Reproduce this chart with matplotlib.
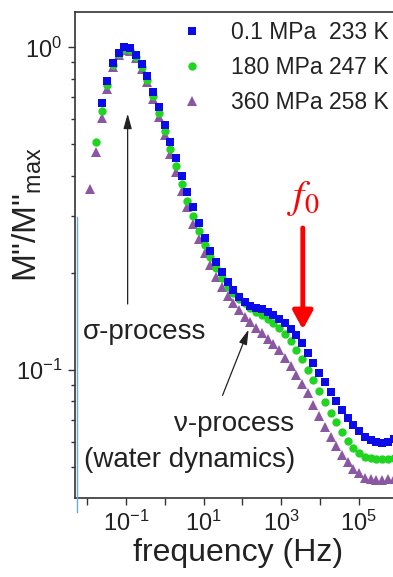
import numpy as np
import matplotlib
matplotlib.use("Agg")
import matplotlib.pyplot as plt
from matplotlib.lines import Line2D
from matplotlib.ticker import LogLocator, NullFormatter, FixedLocator

plt.rcParams['font.family'] = ['Liberation Sans', 'DejaVu Sans']
plt.rcParams['mathtext.fontset'] = 'custom'
plt.rcParams['mathtext.rm'] = 'Liberation Sans'
plt.rcParams['mathtext.it'] = 'Liberation Sans:italic'

# log10 of frequency (Hz) of the measured points
log_freq = [-1.920, -1.773, -1.625, -1.478, -1.330, -1.183, -1.036, -0.888,
            -0.741, -0.593, -0.446, -0.299, -0.151, -0.004, 0.144, 0.291,
            0.438, 0.586, 0.733, 0.881, 1.028, 1.175, 1.323, 1.470,
            1.618, 1.765, 1.912, 2.060, 2.207, 2.355, 2.502, 2.649,
            2.797, 2.944, 3.092, 3.239, 3.386, 3.534, 3.681, 3.829,
            3.976, 4.123, 4.271, 4.418, 4.566, 4.713, 4.860, 5.008,
            5.155, 5.303, 5.450, 5.597, 5.745, 5.892]

# M''/M''max, 0.1 MPa 233 K (starts at 3rd frequency)
m_01 = [0.672, 0.788, 0.892, 0.962, 1.000, 0.993, 0.947, 0.888, 0.815, 0.729,
        0.652, 0.574, 0.510, 0.454, 0.400, 0.355, 0.319, 0.285, 0.256, 0.234,
        0.216, 0.201, 0.188, 0.177, 0.168, 0.163, 0.158, 0.156, 0.154, 0.151,
        0.148, 0.144, 0.140, 0.134, 0.128, 0.121, 0.113, 0.105, 0.0982, 0.0915,
        0.0855, 0.0801, 0.0752, 0.0710, 0.0676, 0.0647, 0.0622, 0.0607, 0.0598,
        0.0596, 0.0600, 0.0609]

# 180 MPa 247 K (starts at 2nd frequency)
m_180 = [0.509, 0.635, 0.764, 0.881, 0.953, 0.988, 0.981, 0.933, 0.869, 0.792,
         0.707, 0.626, 0.550, 0.484, 0.429, 0.377, 0.334, 0.300, 0.270, 0.244,
         0.224, 0.207, 0.193, 0.181, 0.173, 0.166, 0.161, 0.156, 0.151, 0.148,
         0.144, 0.140, 0.135, 0.129, 0.123, 0.115, 0.108, 0.100, 0.0928, 0.0861,
         0.0798, 0.0738, 0.0688, 0.0643, 0.0603, 0.0573, 0.0553, 0.0539, 0.0532,
         0.0528, 0.0528, 0.0530, 0.0534]

# 360 MPa 258 K
m_360 = [0.364, 0.474, 0.605, 0.741, 0.869, 0.947, 0.981, 0.974, 0.927, 0.857,
         0.781, 0.692, 0.608, 0.535, 0.467, 0.411, 0.359, 0.320, 0.283, 0.255,
         0.230, 0.211, 0.194, 0.181, 0.170, 0.161, 0.153, 0.146, 0.141, 0.135,
         0.130, 0.125, 0.120, 0.115, 0.109, 0.103, 0.0968, 0.0908, 0.0846, 0.0781,
         0.0720, 0.0668, 0.0622, 0.0581, 0.0547, 0.0519, 0.0495, 0.0478, 0.0464,
         0.0458, 0.0455, 0.0456, 0.0458, 0.0461]

labels = ['0.1 MPa  233 K', '180 MPa 247 K', '360 MPa 258 K']
x_tick_exp = [-2, -1, 0, 1, 2, 3, 4, 5]
x_label_exp = [-1, 1, 3, 5]

freq = 10 ** np.array(log_freq)

W, H = 393, 577
fig = plt.figure(figsize=(W / 100, H / 100), dpi=100)
ax = fig.add_axes([75 / W, 1 - 498 / H, 327 / W, (498 - 12) / H])

blue, green, purple = '#0b0bea', '#1fd51f', '#8c57a2'
ms = 6.0
h3, = ax.plot(freq, m_360, '^', color=purple, ms=ms + 0.6, mew=0, label=labels[2])
h2, = ax.plot(freq[1:], m_180, 'o', color=green, ms=ms, mew=0, label=labels[1])
h1, = ax.plot(freq[2:], m_01, 's', color=blue, ms=ms - 0.4, mew=0, label=labels[0])

ax.set_xscale('log')
ax.set_yscale('log')
ax.set_xlim(10 ** -2.31, 10 ** 6.11)
ax.set_ylim(10 ** -1.3967, 10 ** 0.1094)

ax.xaxis.set_major_locator(FixedLocator([10.0 ** e for e in x_tick_exp]))
ax.xaxis.set_minor_locator(FixedLocator([]))
ax.set_xticklabels(['$10^{%d}$' % e if e in x_label_exp else '' for e in x_tick_exp])
ax.yaxis.set_major_locator(FixedLocator([0.1, 1.0]))
ax.set_yticklabels(['$10^{-1}$', '$10^{0}$'])
ax.yaxis.set_minor_locator(LogLocator(base=10, subs=np.arange(2, 10)))
ax.yaxis.set_minor_formatter(NullFormatter())

ax.tick_params(which='major', direction='out', length=5, width=1, labelsize=17,
               colors='#333333', labelcolor='#222222', pad=4)
ax.tick_params(which='minor', direction='out', length=3, width=1, colors='#333333')
for s in ['left', 'bottom', 'top']:
    ax.spines[s].set_color('#333333')
    ax.spines[s].set_linewidth(1.2)
ax.spines['right'].set_visible(False)

ax.set_xlabel('frequency (Hz)', fontsize=23, color='#222222', labelpad=2)
ax.set_ylabel('M"/M"$_{\\rm max}$', fontsize=24, color='#222222')
ax.yaxis.set_label_coords((44 - 75) / 327, (498 - 215) / 486)

ax.legend(handles=[h1, h2, h3], loc='upper left', bbox_to_anchor=(181 / W, 1 - 21 / H),
          bbox_transform=fig.transFigure, frameon=False, fontsize=16.5,
          handlelength=1.0, handletextpad=1.2, labelspacing=0.52, borderpad=0,
          borderaxespad=0, labelcolor='#222222')

# sigma-process arrow and label
ax.annotate('', xy=(0.111, 0.635), xytext=(0.111, 0.157),
            arrowprops=dict(arrowstyle='-|>,head_length=0.9,head_width=0.25', color='#222222', lw=0.9))
fig.text(83 / W, 1 - 332 / H, '\u03c3-process', fontsize=20, color='#222222', ha='left', va='center')

# nu-process arrow and label
ax.annotate('', xy=(153.5, 0.1359), xytext=(29.0, 0.0819),
            arrowprops=dict(arrowstyle='-|>,head_length=0.9,head_width=0.25', color='#222222', lw=0.9))
fig.text(294 / W, 1 - 424 / H, '\u03bd-process', fontsize=20, color='#222222', ha='right', va='center')
fig.text(84 / W, 1 - 460 / H, '(water dynamics)', fontsize=20, color='#222222', ha='left', va='center')

# f0 marker
ax.annotate('', xy=(3594, 0.131), xytext=(3594, 0.281),
            arrowprops=dict(arrowstyle='-|>,head_length=1.1,head_width=0.6', color='#ff0000', lw=3.5))
fig.text(303 / W, 1 - 198 / H, '$f_0$', fontsize=29, color='#ff0000', ha='center', va='center',
         math_fontfamily='stix')

# thin blue line along the left edge
fig.add_artist(Line2D([77 / W, 77 / W], [1 - 217 / H, 1 - 512 / H], color='#6fa8dc', lw=1))

fig.savefig('out.png', dpi=100)
